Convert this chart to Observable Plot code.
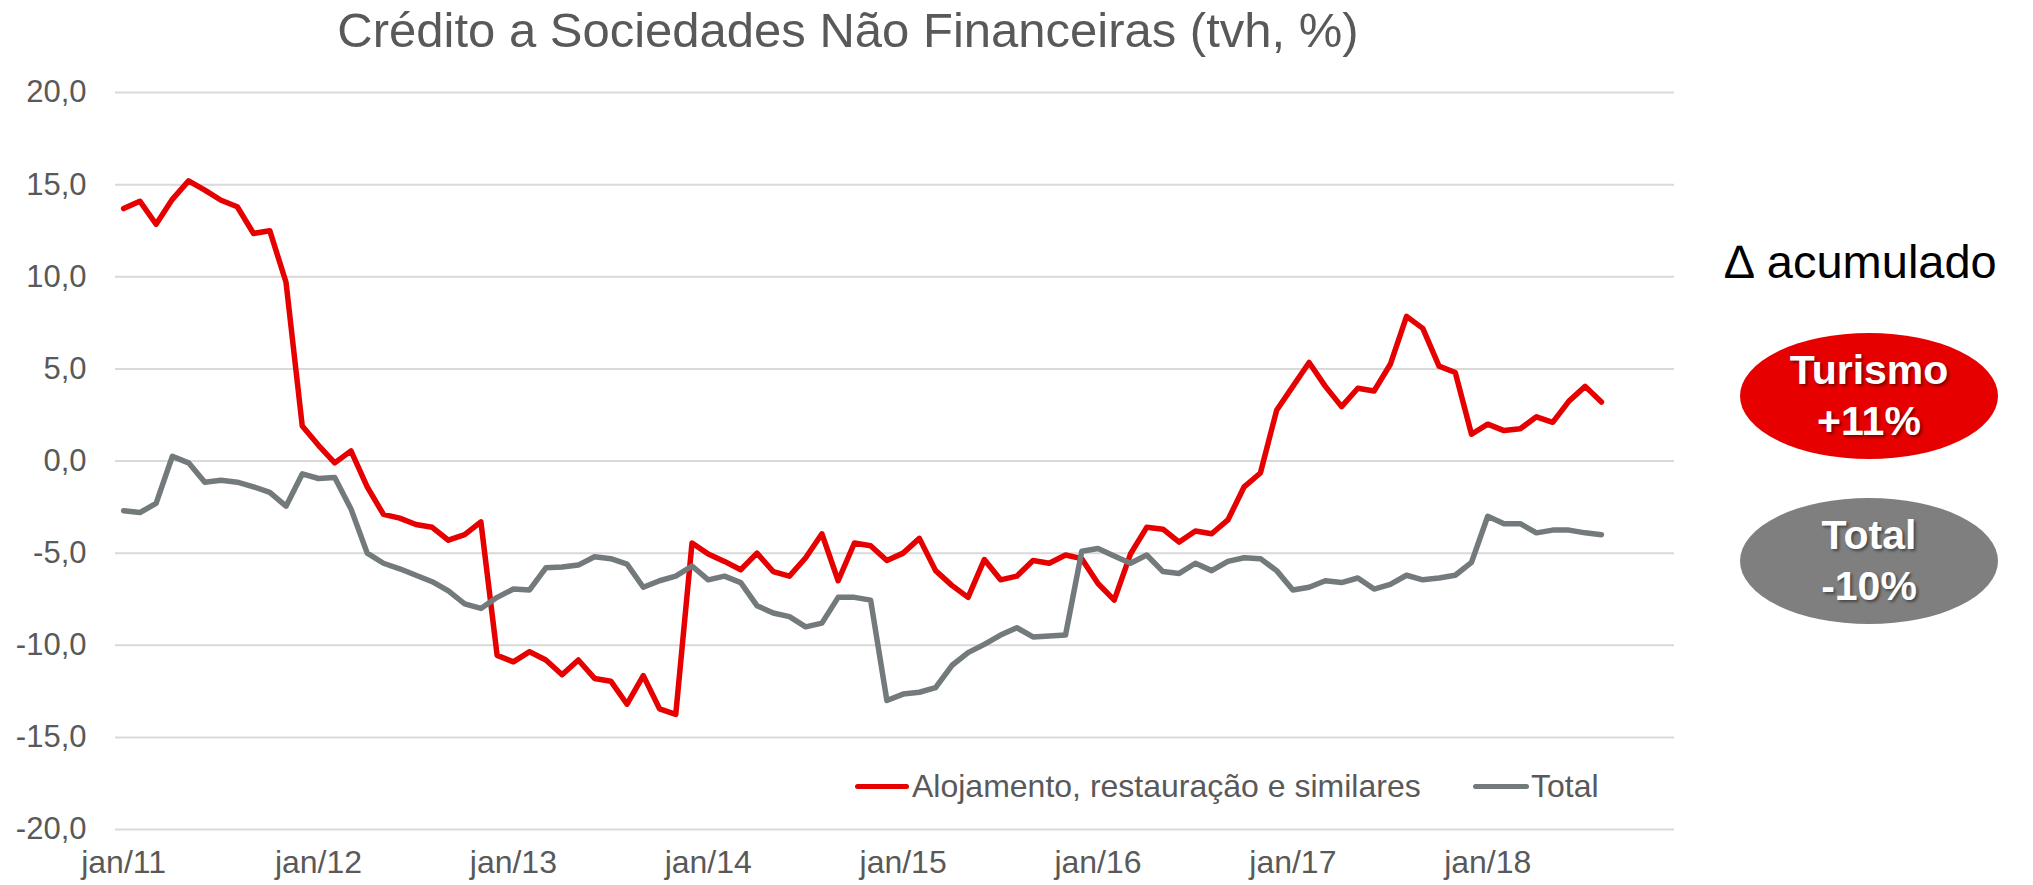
<!DOCTYPE html>
<html>
<head>
<meta charset="utf-8">
<script src="https://cdn.jsdelivr.net/npm/d3@7"></script>
<script src="https://cdn.jsdelivr.net/npm/@observablehq/plot@0.6"></script>
<style>
  html, body { margin: 0; padding: 0; background: #ffffff; }
  body { font-family: "Liberation Sans", Arial, sans-serif; }
  #wrap { position: relative; width: 2033px; height: 885px; overflow: hidden; background: #fff; }
  #title { height: 70px; width: 1696px; text-align: center; font-size: 49px; line-height: 60px; color: #595959; white-space: nowrap; }
  #chart svg { display: block; }
  .leg { position: absolute; top: 766px; height: 40px; line-height: 40px; font-size: 32px; color: #595959; white-space: nowrap; }
  .sw { position: absolute; top: 784px; height: 5px; border-radius: 3px; }
  #delta { position: absolute; left: 1725px; top: 236px; font-size: 47px; line-height: 52px; color: #000; white-space: nowrap; }
  .ell { position: absolute; left: 1740px; width: 258px; height: 126px; border-radius: 50%; display: flex; align-items: center; justify-content: center; text-align: center; color: #fff; font-weight: bold; font-size: 41px; line-height: 51px; text-shadow: 2px 2px 3px rgba(0,0,0,0.45); }
  .ell.red { top: 333px; background: #E60000; }
  .ell.grey { top: 498px; background: #7F7F7F; }
</style>
</head>
<body>
<div id="wrap">
  <div id="title">Crédito a Sociedades Não Financeiras (tvh, %)</div>
  <div id="chart"></div>
  <div class="sw" style="left:855px;width:54px;background:#E60000;"></div>
  <div class="leg" id="leg1" style="left:912px;"></div>
  <div class="sw" style="left:1473px;width:56px;background:#737A7C;"></div>
  <div class="leg" id="leg2" style="left:1531px;"></div>
  <div id="delta">∆ acumulado</div>
  <div class="ell red"><span>Turismo<br>+11%</span></div>
  <div class="ell grey"><span>Total<br>-10%</span></div>
</div>
<script>
// Tick labels (one per January, every 12 months)
const tickLabels = ["jan/11", "jan/12", "jan/13", "jan/14", "jan/15", "jan/16", "jan/17", "jan/18"];
const yTicks = [20, 15, 10, 5, 0, -5, -10, -15, -20];
const seriesNames = ["Alojamento, restauração e similares", "Total"];

// Monthly values, Jan 2011 .. Aug 2018 (tvh, %)
const alojamento = [
  13.7, 14.1, 12.85, 14.2, 15.2, 14.7, 14.15, 13.8, 12.35, 12.5, 9.7, 1.9,
  0.85, -0.1, 0.55, -1.4, -2.9, -3.1, -3.45, -3.6, -4.3, -4.0, -3.3, -10.55,
  -10.9, -10.35, -10.8, -11.6, -10.8, -11.8, -11.95, -13.2, -11.65, -13.45, -13.75, -4.45,
  -5.05, -5.45, -5.9, -5.0, -6.0, -6.25, -5.25, -3.95, -6.5, -4.45, -4.6, -5.4,
  -5.0, -4.2, -5.95, -6.75, -7.4, -5.35, -6.45, -6.25, -5.4, -5.55, -5.1, -5.3,
  -6.65, -7.55, -5.05, -3.6, -3.7, -4.4, -3.8, -3.95, -3.2, -1.4, -0.65, 2.75,
  4.05, 5.35, 4.05, 2.95, 3.95, 3.8, 5.25, 7.85, 7.2, 5.15, 4.8, 1.45,
  2.0, 1.65, 1.75, 2.4, 2.1, 3.25, 4.05, 3.2
];
const total = [
  -2.7, -2.8, -2.3, 0.25, -0.1, -1.15, -1.05, -1.15, -1.4, -1.7, -2.45, -0.7,
  -0.95, -0.9, -2.6, -5.0, -5.55, -5.85, -6.2, -6.55, -7.05, -7.75, -8.0, -7.4,
  -6.95, -7.0, -5.8, -5.75, -5.65, -5.2, -5.3, -5.6, -6.85, -6.5, -6.25, -5.7,
  -6.45, -6.25, -6.6, -7.85, -8.25, -8.45, -9.0, -8.8, -7.4, -7.4, -7.55, -13.0,
  -12.65, -12.55, -12.3, -11.1, -10.4, -9.95, -9.45, -9.05, -9.55, -9.5, -9.45, -4.9,
  -4.75, -5.15, -5.55, -5.1, -6.0, -6.1, -5.55, -5.95, -5.45, -5.25, -5.3, -5.95,
  -7.0, -6.85, -6.5, -6.6, -6.35, -6.95, -6.7, -6.2, -6.45, -6.35, -6.2, -5.5,
  -3.0, -3.4, -3.4, -3.9, -3.75, -3.75, -3.9, -4.0
];

document.getElementById("leg1").textContent = seriesNames[0];
document.getElementById("leg2").textContent = seriesNames[1];

const alojRows = alojamento.map((v, i) => ({i, v}));
const totalRows = total.map((v, i) => ({i, v}));
const xTicks = tickLabels.map((_, k) => k * 12);
const fmtY = d => d.toFixed(1).replace(".", ",");

const chart = Plot.plot({
  width: 2033,
  height: 815,
  marginLeft: 115,
  marginRight: 359,
  marginTop: 22,
  marginBottom: 56,
  style: {fontFamily: "'Liberation Sans', Arial, sans-serif", fontSize: "32px", color: "#595959", background: "#ffffff", overflow: "visible"},
  x: {type: "linear", domain: [-0.5, 95.5]},
  y: {domain: [-20, 20]},
  marks: [
    Plot.gridY(yTicks, {stroke: "#D9D9D9", strokeOpacity: 1, strokeWidth: 2}),
    Plot.axisY({ticks: yTicks, tickFormat: fmtY, tickSize: 0, tickPadding: 29, label: null, fontSize: 31, fill: "#595959"}),
    Plot.axisX({ticks: xTicks, tickFormat: d => tickLabels[Math.round(d / 12)], tickSize: 0, tickPadding: 21, label: null, fontSize: 32, fill: "#595959"}),
    Plot.line(alojRows, {x: "i", y: "v", stroke: "#E60000", strokeWidth: 5.5, strokeLinejoin: "round", strokeLinecap: "round"}),
    Plot.line(totalRows, {x: "i", y: "v", stroke: "#737A7C", strokeWidth: 5.5, strokeLinejoin: "round", strokeLinecap: "round"})
  ]
});
document.getElementById("chart").appendChild(chart);
</script>
</body>
</html>
